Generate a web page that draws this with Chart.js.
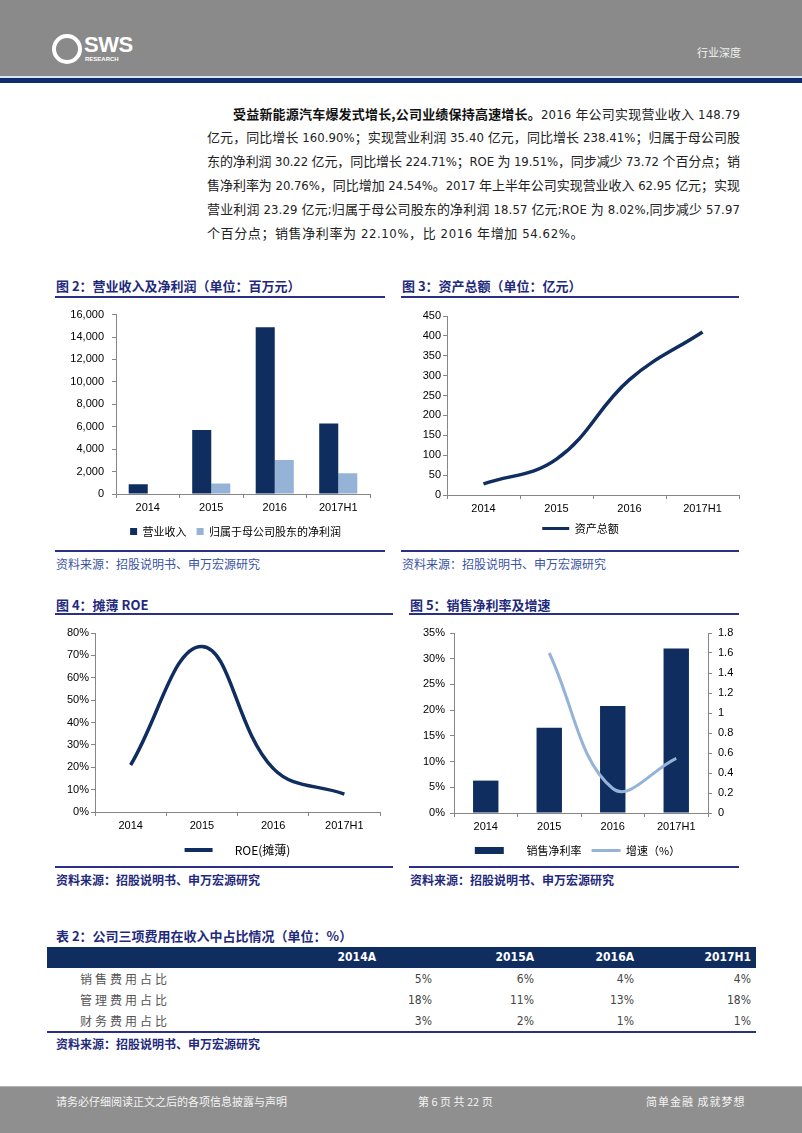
<!DOCTYPE html>
<html>
<head>
<meta charset="utf-8">
<script src="https://cdn.jsdelivr.net/npm/chart.js@4.4.0/dist/chart.umd.min.js"></script>
<style>
  body { margin: 0; background: #fff; }
  #page { position: relative; width: 802px; height: 1133px; overflow: hidden; background: #fff;
          font-family: "Noto Sans CJK SC", sans-serif; }
  .abs { position: absolute; }
  #hdr { left: 0; top: 0; width: 802px; height: 76px; background: #8a8a8a; }
  #hdrLight { left: 0; top: 76px; width: 802px; height: 2px; background: #dde7ef; }
  #hdrNavy { left: 0; top: 78px; width: 802px; height: 5px; background: #0f2d6e; }
  .logoRing { left: 52px; top: 34px; width: 22px; height: 22px; border: 4px solid #fff; border-radius: 50%; }
  .logoTxt { left: 84px; top: 33px; color: #fff; font: bold 22px/24px "Liberation Sans", Arial, sans-serif; letter-spacing: -0.5px; }
  .logoSub { left: 85px; top: 56px; color: #fff; font: bold 6px/7px "Liberation Sans", Arial, sans-serif; }
  .hdrTag { left: 697px; top: 44px; color: #f2f2f2; font-size: 11px; line-height: 16px; }

  .para { font-family: "DejaVu Sans Condensed", "DejaVu Sans", "Noto Sans CJK SC", sans-serif; font-stretch: condensed;
          font-size: 13px; line-height: 20px; color: #222; white-space: nowrap; display: inline-block; }
  .para b { font-family: "Noto Sans CJK SC", sans-serif; font-weight: bold; color: #111; }

  .ttl { font-size: 13px; font-weight: bold; color: #1f2a7c; line-height: 18px; white-space: nowrap; }
  .rule { height: 2px; background: #2a3184; }
  .src { font-size: 12px; line-height: 16px; color: #3a53a4; white-space: nowrap; }
  .src.b { font-weight: bold; color: #1f2a7c; }

  #tblHead { left: 47px; top: 947px; width: 709px; height: 21px; background: #0f2d5f; }
  .th { color: #fff; font: bold 12px/21px "DejaVu Sans Condensed", "Liberation Sans", Arial, sans-serif; font-stretch: condensed; text-align: right; width: 80px; }
  .td { color: #444; font: 12px/20px "DejaVu Sans Condensed", "Liberation Sans", Arial, sans-serif; font-stretch: condensed; text-align: right; width: 80px; }
  .rl { color: #555; font-size: 12px; line-height: 20px; letter-spacing: 3px; }

  #ftr { left: 0; top: 1086px; width: 802px; height: 47px; background: #8f8f8f; border-top: 1px solid #b5b5b5; }
  .ft { color: #f4f4f4; font-size: 11px; line-height: 16px; top: 1093px; white-space: nowrap; }
  canvas { position: absolute; }
</style>
</head>
<body>
<div id="page">
  <div id="hdr" class="abs"></div>
  <div id="hdrLight" class="abs"></div>
  <div id="hdrNavy" class="abs"></div>
  <div class="abs logoRing"></div>
  <div class="abs logoTxt">SWS</div>
  <div class="abs logoSub">RESEARCH</div>
  <div class="abs hdrTag">行业深度</div>

  <div class="abs para jl" data-w="507" style="left:233px; top:104px;"><b>受益新能源汽车爆发式增长,公司业绩保持高速增长。</b>2016 年公司实现营业收入 148.79</div>
  <div class="abs para jl" data-w="533" style="left:207px; top:128px;">亿元，同比增长 160.90%；实现营业利润 35.40 亿元，同比增长 238.41%；归属于母公司股</div>
  <div class="abs para jl" data-w="533" style="left:207px; top:152px;">东的净利润 30.22 亿元，同比增长 224.71%；ROE 为 19.51%，同步减少 73.72 个百分点；销</div>
  <div class="abs para jl" data-w="533" style="left:207px; top:176px;">售净利率为 20.76%，同比增加 24.54%。2017 年上半年公司实现营业收入 62.95 亿元；实现</div>
  <div class="abs para jl" data-w="533" style="left:207px; top:200px;">营业利润 23.29 亿元;归属于母公司股东的净利润 18.57 亿元;ROE 为 8.02%,同步减少 57.97</div>
  <div class="abs para" style="left:207px; top:224px; letter-spacing:0.6px;">个百分点；销售净利率为 22.10%，比 2016 年增加 54.62%。</div>

  <!-- figure titles and rules -->
  <div class="abs ttl" style="left:56px; top:277px;">图 2：营业收入及净利润（单位：百万元）</div>
  <div class="abs rule" style="left:55px; top:296px; width:330px;"></div>
  <div class="abs ttl" style="left:402px; top:277px;">图 3：资产总额（单位：亿元）</div>
  <div class="abs rule" style="left:401px; top:296px; width:338px;"></div>
  <div class="abs rule" style="left:55px; top:550px; width:330px;"></div>
  <div class="abs rule" style="left:401px; top:550px; width:338px;"></div>
  <div class="abs src" style="left:56px; top:556px;">资料来源：招股说明书、申万宏源研究</div>
  <div class="abs src" style="left:402px; top:556px;">资料来源：招股说明书、申万宏源研究</div>

  <div class="abs ttl" style="left:56px; top:596px;">图 4：摊薄 ROE</div>
  <div class="abs rule" style="left:55px; top:613px; width:338px;"></div>
  <div class="abs ttl" style="left:410px; top:596px;">图 5：销售净利率及增速</div>
  <div class="abs rule" style="left:409px; top:613px; width:330px;"></div>
  <div class="abs rule" style="left:55px; top:866px; width:338px;"></div>
  <div class="abs rule" style="left:409px; top:866px; width:330px;"></div>
  <div class="abs src b" style="left:56px; top:872px;">资料来源：招股说明书、申万宏源研究</div>
  <div class="abs src b" style="left:410px; top:872px;">资料来源：招股说明书、申万宏源研究</div>

  <canvas id="c2" width="330" height="250" style="left:55px; top:300px;"></canvas>
  <canvas id="c3" width="350" height="250" style="left:400px; top:300px;"></canvas>
  <canvas id="c4" width="350" height="250" style="left:40px; top:620px;"></canvas>
  <canvas id="c5" width="355" height="250" style="left:400px; top:620px;"></canvas>

  <!-- table -->
  <div class="abs ttl" style="left:56px; top:927px;">表 2：公司三项费用在收入中占比情况（单位：%）</div>
  <div id="tblHead" class="abs"></div>
  <div id="tbl"></div>
  <div class="abs rule" style="left:47px; top:1031px; width:709px;"></div>
  <div class="abs src b" style="left:56px; top:1036px;">资料来源：招股说明书、申万宏源研究</div>

  <div id="ftr" class="abs"></div>
  <div class="abs ft" style="left:56px;">请务必仔细阅读正文之后的各项信息披露与声明</div>
  <div class="abs ft" style="left:418px;">第 6 页 共 22 页</div>
  <div class="abs ft" style="left:646px; letter-spacing:1px;">简单金融 成就梦想</div>
</div>

<script>
// ---- data ----
const years = ['2014', '2015', '2016', '2017H1'];
const revenue = [870, 5703, 14879, 6295];          // 营业收入, 百万元
const netProfit = [55, 931, 3022, 1857];           // 归母净利润, 百万元
const totalAssets = [28, 90, 290, 410];            // 资产总额, 亿元
const roe = [21, 74, 19.5, 8];                     // ROE(摊薄), %
const netMargin = [6.3, 16.6, 20.8, 32];           // 销售净利率, %
const marginGrowth = [null, 1.6, 0.245, 0.546];    // 增速

const tableCols = ['2014A', '2015A', '2016A', '2017H1'];
const tableRows = ['销售费用占比', '管理费用占比', '财务费用占比'];
const sellingRatio = ['5%', '6%', '4%', '4%'];
const adminRatio = ['18%', '11%', '13%', '18%'];
const financeRatio = ['3%', '2%', '1%', '1%'];

const NAVY = '#0f2d5f';
const LIGHT = '#95b3d7';
const AXIS = '#868686';

/**
 * Justify the paragraph lines to the page width
 */
document.querySelectorAll('.jl').forEach(el => {
  const target = parseFloat(el.dataset.w);
  const n = el.textContent.length;
  const natural = el.getBoundingClientRect().width;
  el.style.letterSpacing = ((target - natural) / (n - 1)) + 'px';
});

/**
 * Build the table rows
 */
const colRight = [376, 534, 634, 751];
const valRight = [432, 534, 634, 751];
let html = '';
tableCols.forEach((c, i) => {
  html += `<div class="abs th" style="left:${colRight[i] - 80}px; top:947px;">${c}</div>`;
});
[sellingRatio, adminRatio, financeRatio].forEach((row, r) => {
  const top = 969 + r * 21;
  html += `<div class="abs rl" style="left:80px; top:${top}px;">${tableRows[r]}</div>`;
  row.forEach((v, i) => {
    html += `<div class="abs td" style="left:${valRight[i] - 80}px; top:${top}px;">${v}</div>`;
  });
});
document.getElementById('tbl').innerHTML = html;

// ---- chart helpers ----
Chart.defaults.font.family = '"Liberation Sans", Arial, sans-serif';
Chart.defaults.font.size = 11;
Chart.defaults.color = '#000';
Chart.defaults.animation = false;

const cjk = size => ({ family: '"Noto Sans CJK SC", sans-serif', size: size });

function xAxis(height) {
  return {
    type: 'category',
    offset: true,
    grid: { offset: true, drawOnChartArea: false, drawTicks: true, tickLength: 4, color: AXIS },
    border: { color: AXIS },
    ticks: { padding: 3, maxRotation: 0, autoSkip: false },
    afterFit(s) { s.height = height; },
  };
}

function yAxis(max, step, width, pad, fmt, position) {
  return {
    position: position || 'left',
    min: 0,
    max: max,
    grid: { drawOnChartArea: false, drawTicks: true, tickLength: 4, color: AXIS },
    border: { color: AXIS },
    ticks: { stepSize: step, padding: pad, callback: fmt },
    afterFit(s) { s.width = width; },
  };
}

// 图2 营业收入及净利润
new Chart(document.getElementById('c2'), {
  type: 'bar',
  data: {
    labels: years,
    datasets: [
      { label: '营业收入', data: revenue, backgroundColor: NAVY, categoryPercentage: 0.6, barPercentage: 1 },
      { label: '归属于母公司股东的净利润      ', data: netProfit, backgroundColor: LIGHT, categoryPercentage: 0.6, barPercentage: 1 },
    ],
  },
  options: {
    responsive: false,
    layout: { padding: { top: 14, right: 15, bottom: 3, left: 0 } },
    scales: {
      x: xAxis(22),
      y: yAxis(16000, 2000, 61, 8, v => v.toLocaleString('en-US')),
    },
    plugins: {
      tooltip: { enabled: false },
      legend: { position: 'bottom', fullSize: false,
        labels: { boxWidth: 7, boxHeight: 7, padding: 10, font: cjk(11) } },
    },
  },
});

// 图3 资产总额
new Chart(document.getElementById('c3'), {
  type: 'line',
  data: {
    labels: years,
    datasets: [
      { label: '资产总额', data: totalAssets, borderColor: NAVY, backgroundColor: NAVY, borderWidth: 3.5,
        tension: 0.4, pointRadius: 0, pointHoverRadius: 0, pointStyle: 'line', pointBorderWidth: 3, pointBorderColor: NAVY },
    ],
  },
  options: {
    responsive: false,
    layout: { padding: { top: 16, right: 11, bottom: 6, left: 22 } },
    scales: {
      x: xAxis(18),
      y: yAxis(450, 50, 25, 2, v => v),
    },
    plugins: {
      tooltip: { enabled: false },
      legend: { position: 'bottom', labels: { usePointStyle: true, pointStyleWidth: 27, boxHeight: 8, padding: 10, font: cjk(11) } },
    },
  },
});

// 图4 摊薄 ROE
new Chart(document.getElementById('c4'), {
  type: 'line',
  data: {
    labels: years,
    datasets: [
      { label: '      ROE(摊薄)', data: roe, borderColor: NAVY, backgroundColor: NAVY, borderWidth: 3.5,
        tension: 0.4, pointRadius: 0, pointHoverRadius: 0, pointStyle: 'line', pointBorderWidth: 4, pointBorderColor: NAVY },
    ],
  },
  options: {
    responsive: false,
    layout: { padding: { top: 13, right: 10, bottom: 4, left: 0 } },
    scales: {
      x: xAxis(22),
      y: yAxis(80, 10, 55, 2, v => v + '%'),
    },
    plugins: {
      tooltip: { enabled: false },
      legend: { position: 'bottom', fullSize: false,
        labels: { usePointStyle: true, pointStyleWidth: 28, boxHeight: 8, padding: 10, font: cjk(12) } },
    },
  },
});

// 图5 销售净利率及增速
new Chart(document.getElementById('c5'), {
  type: 'bar',
  data: {
    labels: years,
    datasets: [
      { type: 'line', label: '增速（%）', data: marginGrowth, yAxisID: 'y1', borderColor: LIGHT, backgroundColor: LIGHT,
        borderWidth: 3, tension: 0.4, pointRadius: 0, pointHoverRadius: 0, pointStyle: 'line',
        pointBorderWidth: 3, pointBorderColor: LIGHT },
      { label: '       销售净利率', data: netMargin, yAxisID: 'y', backgroundColor: NAVY,
        categoryPercentage: 0.8, barPercentage: 0.5, pointStyle: 'rect' },
    ],
  },
  options: {
    responsive: false,
    layout: { padding: { top: 13, right: 5, bottom: 4, left: 5 } },
    scales: {
      x: xAxis(22),
      y: yAxis(35, 5, 49, 5, v => v + '%'),
      y1: yAxis(1.8, 0.2, 42, 6, v => String(+v.toFixed(1)), 'right'),
    },
    plugins: {
      tooltip: { enabled: false },
      legend: { position: 'bottom', reverse: true,
        labels: { usePointStyle: true, pointStyleWidth: 29, boxHeight: 7, padding: 10, font: cjk(11) } },
    },
  },
});
</script>
</body>
</html>
